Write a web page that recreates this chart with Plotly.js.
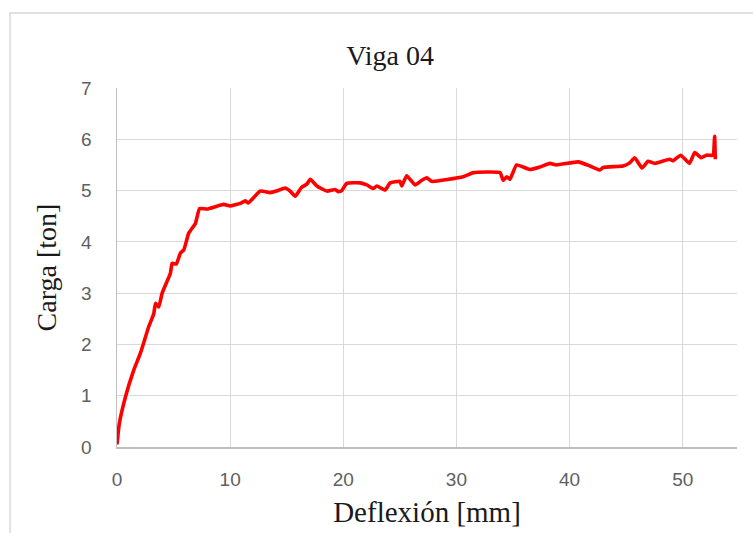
<!DOCTYPE html>
<html>
<head>
<meta charset="utf-8">
<script src="https://cdn.plot.ly/plotly-3.0.1.min.js"></script>
<style>html,body{margin:0;padding:0;background:#fff;}#chart{width:753px;height:533px;}</style>
</head>
<body>
<div id="chart"></div>
<script>
// Data
const deflexion = [0, 0.2, 0.75, 1.48, 2.07, 2.81, 3.25, 3.4, 3.69, 3.99, 4.72, 4.87, 5.25, 5.6, 5.9, 6.34, 6.93, 7.3, 7.96, 9.43, 10.0, 10.9, 11.34, 11.6, 12.67, 13.55, 14.1, 14.87, 15.3, 15.75, 16.3, 16.8, 17.08, 17.67, 18.55, 19.28, 19.58, 19.87, 20.3, 21.5, 22.08, 22.66, 22.96, 23.7, 24.14, 25.0, 25.17, 25.6, 26.35, 26.94, 27.38, 27.82, 30.6, 31.5, 33.85, 34.14, 34.44, 34.73, 35.32, 36.5, 37.38, 38.26, 38.85, 40.76, 41.8, 42.67, 42.97, 44.73, 45.32, 45.76, 46.4, 46.94, 47.53, 48.85, 49.14, 49.82, 50.6, 51.06, 51.65, 52.09, 52.68, 52.82, 52.88];
const carga = [0.05, 0.45, 0.98, 1.5, 1.83, 2.35, 2.6, 2.8, 2.73, 3.0, 3.39, 3.58, 3.57, 3.78, 3.84, 4.17, 4.36, 4.65, 4.64, 4.73, 4.7, 4.75, 4.8, 4.76, 4.99, 4.96, 4.99, 5.05, 4.99, 4.89, 5.06, 5.13, 5.22, 5.09, 4.99, 5.02, 4.98, 5.0, 5.14, 5.15, 5.11, 5.04, 5.09, 5.01, 5.15, 5.18, 5.09, 5.29, 5.11, 5.2, 5.25, 5.18, 5.27, 5.35, 5.35, 5.2, 5.27, 5.22, 5.5, 5.41, 5.46, 5.53, 5.5, 5.56, 5.48, 5.4, 5.45, 5.48, 5.54, 5.64, 5.44, 5.57, 5.53, 5.61, 5.58, 5.69, 5.53, 5.74, 5.64, 5.69, 5.69, 6.06, 5.61];
const xTicks = [0, 10, 20, 30, 40, 50];
const yTicks = [0, 1, 2, 3, 4, 5, 6, 7];
const chartTitle = 'Viga 04';
const xLabel = 'Deflexión [mm]';
const yLabel = 'Carga [ton]';

const serif = '"Liberation Serif", "Times New Roman", serif';
const sans = '"Liberation Sans", Arial, sans-serif';

const trace = {
  x: deflexion, y: carga, type: 'scatter', mode: 'lines',
  line: {color: '#ff0000', width: 3.6, shape: 'spline', smoothing: 0.4},
  hoverinfo: 'skip'
};

const layout = {
  width: 753, height: 533,
  margin: {l: 117, r: 16, t: 88, b: 86},
  paper_bgcolor: '#ffffff', plot_bgcolor: '#ffffff',
  showlegend: false,
  title: {text: chartTitle, font: {family: serif, size: 28, color: '#1a1a1a'}, x: 0.518, xanchor: 'center', y: 0.897, yanchor: 'middle'},
  xaxis: {
    range: [0, 54.8], tickvals: xTicks, ticktext: xTicks.map(String),
    showgrid: true, gridcolor: '#d9d9d9', gridwidth: 1,
    showline: true, linecolor: '#bfbfbf', linewidth: 1.5,
    zeroline: false, ticks: 'outside', ticklen: 15, tickcolor: 'rgba(0,0,0,0)',
    tickfont: {family: sans, size: 19, color: '#606060'},
    title: {text: xLabel, font: {family: serif, size: 29, color: '#1a1a1a'}, standoff: 12},
    fixedrange: true
  },
  yaxis: {
    range: [0, 7], tickvals: yTicks, ticktext: yTicks.map(String),
    showgrid: true, gridcolor: '#d9d9d9', gridwidth: 1,
    showline: true, linecolor: '#bfbfbf', linewidth: 1.5,
    zeroline: false, ticks: 'outside', ticklen: 20, tickcolor: 'rgba(0,0,0,0)',
    tickfont: {family: sans, size: 19, color: '#606060'},
    title: {text: yLabel, font: {family: serif, size: 28, color: '#1a1a1a'}, standoff: 16},
    fixedrange: true
  },
  shapes: [{
    type: 'rect', xref: 'paper', yref: 'paper',
    x0: -0.1726, x1: 1.1, y0: -0.4, y1: 1.209,
    line: {color: '#d9d9d9', width: 1.5}, fillcolor: 'rgba(0,0,0,0)', layer: 'below'
  }]
};

Plotly.newPlot('chart', [trace], layout, {displayModeBar: false, staticPlot: true});
</script>
</body>
</html>
